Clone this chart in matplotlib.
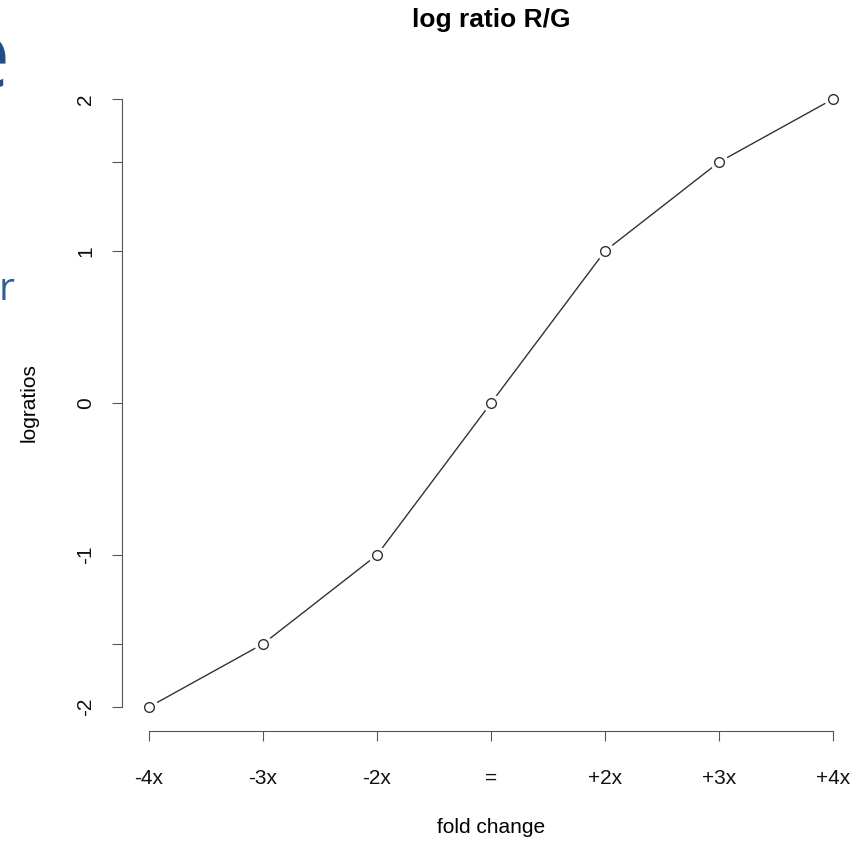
import matplotlib
matplotlib.use('Agg')
import matplotlib.pyplot as plt

# veri
fold_labels = ['-4x', '-3x', '-2x', '=', '+2x', '+3x', '+4x']
fold_pos = [1, 2, 3, 4, 5, 6, 7]
logratios = [-2, -1.585, -1, 0, 1, 1.585, 2]
ytick_labels = ['-2', '', '-1', '0', '1', '', '2']

plt.rcParams['font.family'] = ['Liberation Sans', 'DejaVu Sans']

fig = plt.figure(figsize=(8.57, 8.44), dpi=100)
ax = fig.add_axes([0.1419, 0.1335, 0.8621, 0.778])

axis_col = '#555555'
ax.plot(fold_pos, logratios, color='#333333', lw=1, zorder=1)
# R type="b" gibi: noktaların etrafında beyaz boşluk
ax.plot(fold_pos, logratios, ls='none', marker='o', ms=12, mfc='white',
        mec='white', zorder=2)
ax.plot(fold_pos, logratios, ls='none', marker='o', ms=7, mfc='white',
        mec='#333333', mew=1, zorder=3)

ax.set_xlim(0.76, 7.24)
ax.set_ylim(-2.16, 2.16)

for s in ['top', 'right']:
    ax.spines[s].set_visible(False)
ax.spines['left'].set_bounds(-2, 2)
ax.spines['bottom'].set_bounds(1, 7)
ax.spines['left'].set_color(axis_col)
ax.spines['bottom'].set_color(axis_col)

ax.set_xticks(fold_pos)
ax.set_xticklabels(fold_labels)
ax.set_yticks(logratios)
ax.set_yticklabels(ytick_labels, rotation=90, va='center')
ax.tick_params(axis='both', length=7, color=axis_col, labelsize=15, labelcolor='#111111')
ax.tick_params(axis='x', pad=20)
ax.tick_params(axis='y', pad=12)

ax.set_title('log ratio R/G', fontsize=19, fontweight='bold', pad=34)
ax.set_xlabel('fold change', fontsize=15, labelpad=22)
ax.set_ylabel('logratios', fontsize=15, labelpad=27)

# arka plandaki slayt yazısından kalan parçalar
fig.text(0.012, 0.896, 'e', fontsize=70, color='#1f4e8c', ha='right',
         va='baseline', family='Open Sans')
fig.text(0.0175, 0.6445, 'r', fontsize=28, color='#2e5f9a', ha='right',
         va='baseline', family='Open Sans')

plt.savefig('out.png', dpi=100)
